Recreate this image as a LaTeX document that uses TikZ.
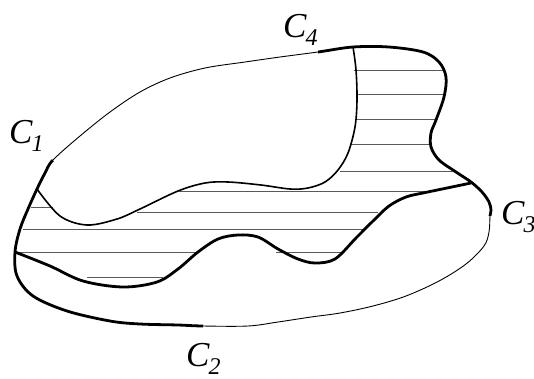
\documentclass[tikz,border=0pt]{standalone}
\usepackage{fontspec}
\setmainfont{Liberation Serif}
\usetikzlibrary{arrows.meta}

\newcommand{\clab}[1]{C\kern-1pt\raisebox{-8pt}{\fontsize{24}{24}\selectfont #1}}
\newcommand{\rimpath}{plot[smooth cycle, tension=0.55] coordinates {
  (53,160) (80,136) (110,112) (140,92) (170,78) (205,68) (245,62)
  (280,57) (318,52) (353,47) (389,47) (423,52) (439,62) (446,77) (444,97)
  (436,120) (431,133) (431,147) (439,160) (456,172) (471,182) (482,192)
  (489,202) (491,210) (490,216) (489,232) (484,246) (466,264) (439,281)
  (406,296) (373,306) (340,313) (311,317) (278,322) (248,326) (203,326)
  (178,325) (140,324) (110,321) (67,311) (33,296) (17,276) (15,252)
  (20,229) (28,209) (37,189) (45,173)}}

\tikzset{
  rim/.style={line width=0.9pt},
  rimbold/.style={line width=2.8pt},
  inner/.style={line width=1.6pt},
  seam/.style={line width=2.8pt},
  hatch/.style={line width=0.8pt, black!65},
  curvelab/.style={inner sep=0pt, anchor=base west,
    font=\fontsize{35}{35}\selectfont\itshape}
}

\begin{document}
\begin{tikzpicture}[x=1pt, y=-1pt, line join=round]
  \useasboundingbox (0,0) rectangle (534,378);

  %% hatching
  \foreach \y/\xa/\xb in {70/354/445, 94/356/445, 119/356/437, 144/350/431,
      171/340/455, 191/179/425, 207/31/53, 212/137/378, 229/23/364,
      252/17/199, 252/276/341, 277/87/163}
    \draw[hatch] (\xa,\y) -- (\xb,\y);

  %% inner curves
  \draw[inner] plot[smooth, tension=0.55] coordinates {
    (37,189) (60,216) (87,225) (117,219) (140,209) (178,191) (205,183)
    (228,182) (261,185) (290,189) (308,188) (325,182) (338,170) (348,153)
    (355,127) (357,100) (356,70) (353,47)};
  \draw[seam] plot[smooth, tension=0.55] coordinates {
    (15,252) (50,266) (83,281) (123,287) (157,282) (178,269) (198,252)
    (218,239) (238,235) (258,237) (278,249) (298,259) (315,263) (335,259)
    (356,238) (373,221) (389,206) (406,197) (423,193) (447,188) (471,183)};

  %% outer rim: thin all round, bold between the marks
  \draw[rim] \rimpath;
  \begin{scope}
    \clip (318,0) -- (534,0) -- (534,216) -- (400,216) -- (400,100) -- (318,100) -- cycle;
    \draw[rimbold] \rimpath;
  \end{scope}
  \begin{scope}
    \clip (0,378) -- (203,378) -- (203,300) -- (80,190) -- (0,102) -- cycle;
    \draw[rimbold] \rimpath;
  \end{scope}

  %% end marks and labels
  \coordinate (c1) at (53,160);
  \coordinate (c2) at (203,326);
  \coordinate (c3) at (490,216);
  \coordinate (c4) at (318,52);
  \node[curvelab] (lab1) at (9,143) {\clab{1}};
  \node[curvelab] (lab2) at (186,366) {\clab{2}};
  \node[curvelab] (lab3) at (501,224) {\clab{3}};
  \node[curvelab] (lab4) at (283,37) {\clab{4}};
\end{tikzpicture}
\end{document}
